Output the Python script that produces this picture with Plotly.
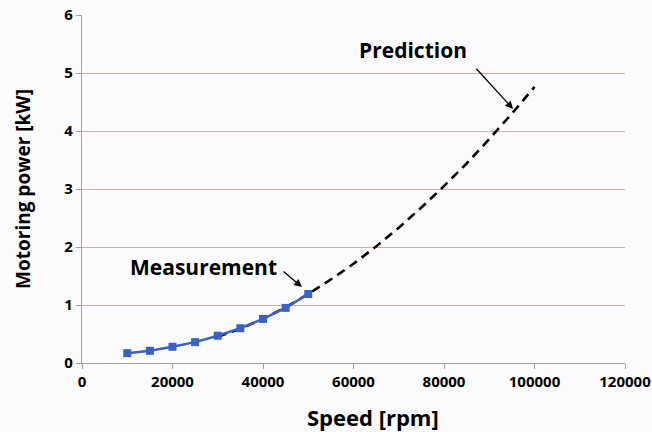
import plotly.graph_objects as go

meas_speed = [10000, 15000, 20000, 25000, 30000, 35000, 40000, 45000, 50000]
meas_power = [0.17, 0.21, 0.28, 0.36, 0.47, 0.60, 0.76, 0.95, 1.19]

pred_speed = [30000, 35000, 40000, 45000, 50000, 55000, 60000, 65000, 70000,
              75000, 80000, 85000, 90000, 95000, 100000]
pred_power = [0.45, 0.59, 0.76, 0.96, 1.19, 1.44, 1.71, 2.01, 2.33,
              2.68, 3.05, 3.44, 3.86, 4.30, 4.76]

x_ticks = [0, 20000, 40000, 60000, 80000, 100000, 120000]
y_ticks = [0, 1, 2, 3, 4, 5, 6]

FONT = "Open Sans"

fig = go.Figure()
fig.add_trace(go.Scatter(x=pred_speed, y=pred_power, mode="lines",
                         line=dict(color="black", width=2.6, dash="9px,6px"),
                         showlegend=False))
fig.add_trace(go.Scatter(x=meas_speed, y=meas_power, mode="lines+markers",
                         line=dict(color="#3a62c4", width=2.5),
                         marker=dict(symbol="square", size=8, color="#3a62c4"),
                         showlegend=False))

# labels
fig.add_annotation(x=73150, y=5.40, text="<b>Prediction</b>", showarrow=False,
                   font=dict(family=FONT, size=21, color="black"))
fig.add_annotation(x=95250, y=4.38, ax=86850, ay=5.10, axref="x", ayref="y",
                   text="", showarrow=True, arrowhead=2, arrowsize=1.2,
                   arrowwidth=1.3, arrowcolor="black")
fig.add_annotation(x=26960, y=1.655, text="<b>Measurement</b>", showarrow=False,
                   font=dict(family=FONT, size=21, color="black"))
fig.add_annotation(x=48600, y=1.31, ax=44200, ay=1.60, axref="x", ayref="y",
                   text="", showarrow=True, arrowhead=2, arrowsize=1.2,
                   arrowwidth=1.3, arrowcolor="black")
# x-axis title (placed slightly right of centre, as in the reference)
fig.add_annotation(xref="paper", yref="paper", x=0.536, y=-0.155,
                   xanchor="center", yanchor="middle", showarrow=False,
                   text="<b>Speed [rpm]</b>", font=dict(family=FONT, size=22, color="black"))

fig.update_layout(
    width=652, height=432,
    margin=dict(l=82, r=27, t=15, b=69),
    paper_bgcolor="#fbfbfd", plot_bgcolor="#fbfbfd",
    font=dict(family=FONT, color="black"),
    xaxis=dict(range=[0, 120000], tickvals=x_ticks,
               ticktext=[f"<b>{v}</b>" for v in x_ticks],
               showgrid=False, zeroline=False, showline=True,
               linecolor="#a0a0a0", linewidth=1.3,
               ticks="outside", ticklen=5, tickcolor="#a0a0a0",
               tickfont=dict(family=FONT, size=15),
               automargin=False),
    yaxis=dict(range=[0, 6], tickvals=y_ticks,
               ticktext=[f"<b>{v}</b>" for v in y_ticks],
               showgrid=True, gridcolor="#c8b2a4", gridwidth=1.2,
               zeroline=False, showline=True,
               linecolor="#a0a0a0", linewidth=1.3,
               ticks="outside", ticklen=5, tickcolor="#a0a0a0",
               tickfont=dict(family=FONT, size=15),
               automargin="left",
               title=dict(text="<b>Motoring power [kW]</b>", font=dict(family=FONT, size=19),
                          standoff=28)),
)

fig.write_html("out.html")
